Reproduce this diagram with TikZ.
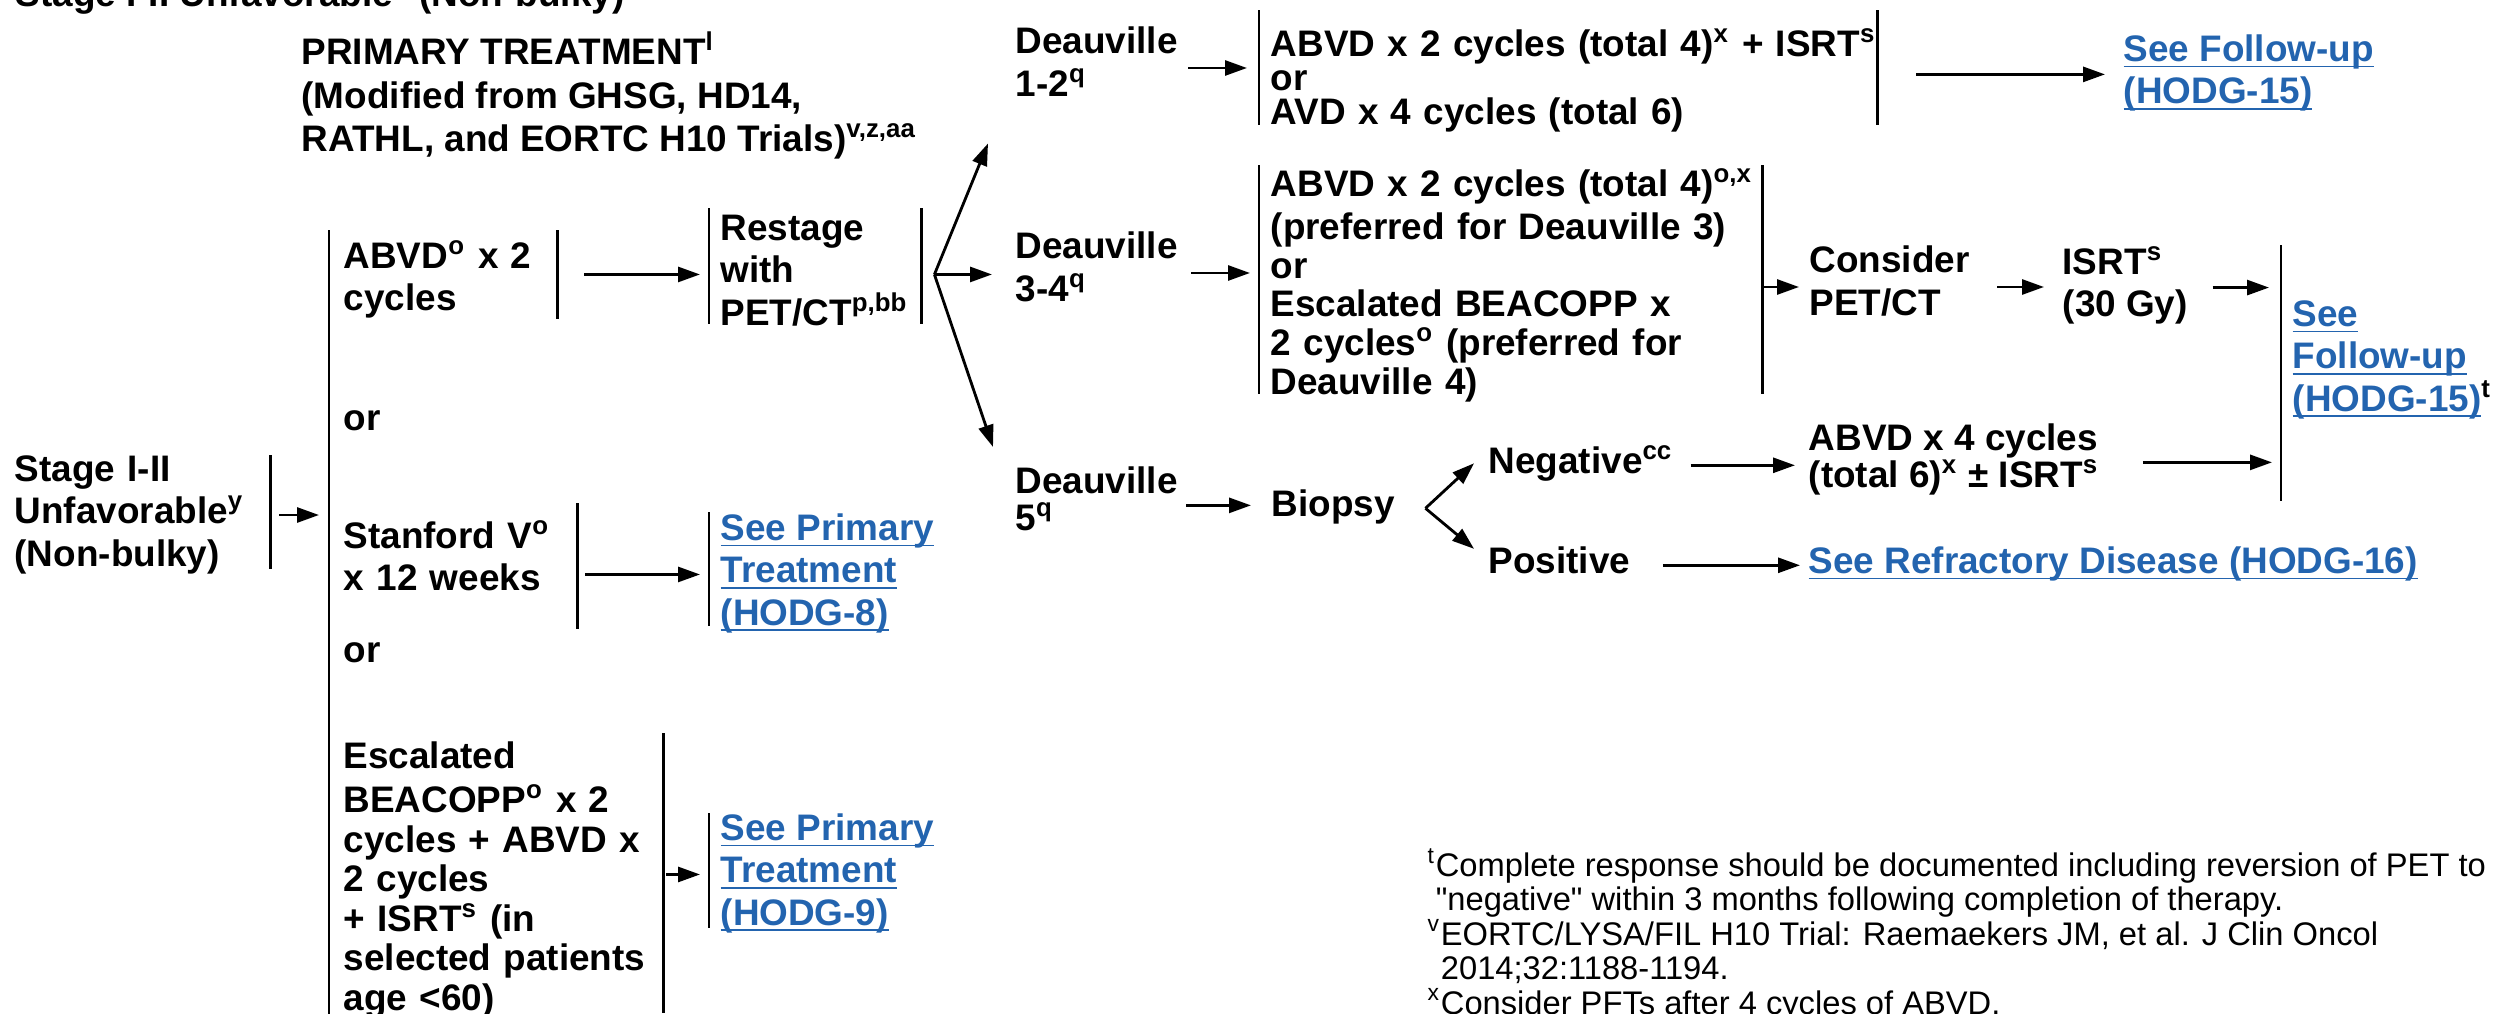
\documentclass[tikz,border=0pt]{standalone}
\usepackage{fontspec}
\setmainfont{Liberation Sans}
\usetikzlibrary{arrows.meta,positioning}

\definecolor{linkblue}{RGB}{35,100,175}
\newcommand{\tstrut}{\rule[-3.6pt]{0pt}{12pt}}
\newcommand{\lnk}[1]{\underline{\smash{#1}}\tstrut}
\lineskiplimit=-100pt

\tikzset{
  txt/.style={font=\fontsize{10.5}{12}\selectfont\bfseries, align=left, inner sep=0pt,
    anchor=north west, execute at begin node=\tstrut, execute at end node=\tstrut},
  lead/.style={font=\fontsize{10.5}{#1}\selectfont\bfseries},
  link/.style={txt, text=linkblue},
  note/.style={font=\fontsize{9.3}{9.8}\selectfont, align=left, inner sep=0pt,
    anchor=north west, execute at begin node=\tstrut},
  bar/.style={line width=0.7pt},
  lbar/.style 2 args={append after command={([xshift=-1.1mm,yshift=#1]\tikzlastnode.north west)
    edge[bar] ([xshift=-1.1mm,yshift=#2]\tikzlastnode.south west)}},
  rbar/.style 2 args={append after command={([yshift=#1]\tikzlastnode.north east)
    edge[bar] ([yshift=#2]\tikzlastnode.south east)}},
  arr/.style={line width=0.8pt, -{Triangle[length=2.2mm,width=1.5mm]}, shorten >=2mm},
}

\begin{document}
\begin{tikzpicture}
    \useasboundingbox (0,0) rectangle (24.94,-10.13);

    % Titolo e intestazione
    \node[txt, anchor=base west] (title) at (0.15,-0.07) {Stage I-II Unfavorable\textsuperscript{y} (Non-bulky)};
    \node[txt, lead=12.3pt] (head) at (3.01,-0.315) {PRIMARY TREATMENT\textsuperscript{l}\\(Modified from GHSG, HD14,\\RATHL, and EORTC H10 Trials)\textsuperscript{v,z,aa}};

    % Colonna di sinistra
    \node[txt, text width=2.55cm, rbar={-0.35mm}{1mm}] (stage) at (0.14,-4.515) {Stage I-II\\Unfavorable\textsuperscript{y}\\(Non-bulky)};
    \draw[bar] (3.29,-2.30) -- (3.29,-10.3);
    \coordinate (opts) at (3.29,-5.15);

    % Trattamenti
    \node[txt, text width=2.13cm, rbar={0.85mm}{0.5mm}] (abvd) at (3.43,-2.385) {ABVD\textsuperscript{o} x 2\\cycles};
    \node[txt] (or1) at (3.43,-4.00) {or};
    \node[txt, text width=2.33cm, rbar={1.55mm}{-2.5mm}] (stanford) at (3.43,-5.185) {Stanford V\textsuperscript{o}\\x 12 weeks};
    \node[txt] (or2) at (3.43,-6.32) {or};
    \node[txt, lead=11.25pt, text width=3.19cm, rbar={0.55mm}{1.1mm}] (escal) at (3.43,-7.385) {Escalated\\BEACOPP\textsuperscript{o} x 2\\cycles + ABVD x\\2 cycles\\+ ISRT\textsuperscript{s} (in\\selected patients\\age <60)};

    \node[txt, text width=2.00cm, lbar={0.25mm}{1.4mm}, rbar={0.25mm}{1.4mm}] (restage) at (7.20,-2.105) {Restage\\with\\PET/CT\textsuperscript{p,bb}};
    \node[link, lbar={-0.15mm}{1.2mm}] (prim8) at (7.20,-5.105) {\lnk{See Primary}\\\lnk{Treatment}\\\lnk{(HODG-8)}};
    \node[link, lbar={-0.25mm}{1mm}] (prim9) at (7.20,-8.105) {\lnk{See Primary}\\\lnk{Treatment}\\\lnk{(HODG-9)}};

    % Deauville
    \node[txt] (d12) at (10.15,-0.265) {Deauville\\1-2\textsuperscript{q}};
    \node[txt] (d34) at (10.15,-2.315) {Deauville\\3-4\textsuperscript{q}};
    \node[txt, lead=10.5pt] (d5) at (10.15,-4.665) {Deauville\\5\textsuperscript{q}};

    \node[txt, lead=9.7pt, text width=6.06cm, lbar={1.65mm}{1.35mm}, rbar={1.65mm}{1.35mm}] (blk12) at (12.70,-0.265) {ABVD x 2 cycles (total 4)\textsuperscript{x} + ISRT\textsuperscript{s}\\or\\AVD x 4 cycles (total 6)};
    \node[txt, lead=11pt, text width=4.91cm, lbar={0.15mm}{1.4mm}, rbar={0.15mm}{1.4mm}] (blk34) at (12.70,-1.665) {ABVD x 2 cycles (total 4)\textsuperscript{o,x}\\(preferred for Deauville 3)\\or\\Escalated BEACOPP x\\2 cycles\textsuperscript{o} (preferred for\\Deauville 4)};
    \node[txt] (cons) at (18.09,-2.455) {Consider\\PET/CT};
    \node[txt] (isrt) at (20.62,-2.455) {ISRT\textsuperscript{s}\\(30 Gy)};
    \node[link] (fu15) at (21.23,-0.315) {\lnk{See Follow-up}\\\lnk{(HODG-15)}};
    \node[link, lbar={5.15mm}{-7.7mm}] (fu15t) at (22.92,-2.965) {\lnk{See}\\\lnk{Follow-up}\\\lnk{(HODG-15)}\textcolor{black}{\textsuperscript{t}}};

    \node[txt] (bio) at (12.71,-4.865) {Biopsy};
    \node[txt] (neg) at (14.88,-4.435) {Negative\textsuperscript{cc}};
    \node[txt] (pos) at (14.88,-5.435) {Positive};
    \node[txt, lead=10.5pt] (abvd4) at (18.08,-4.235) {ABVD x 4 cycles\\(total 6)\textsuperscript{x} ± ISRT\textsuperscript{s}};
    \node[link] (refr) at (18.08,-5.435) {\lnk{See Refractory Disease (HODG-16)}};

    % Note
    \node[note] (fn) at (14.27,-8.475) {\textsuperscript{t}Complete response should be documented including reversion of PET to\\
        \phantom{\textsuperscript{t}}\textquotedbl negative\textquotedbl{} within 3 months following completion of therapy.\\
        \textsuperscript{v}EORTC/LYSA/FIL H10 Trial: Raemaekers JM, et al. J Clin Oncol\\
        \phantom{\textsuperscript{v}}2014;32:1188-1194.\\
        \textsuperscript{x}Consider PFTs after 4 cycles of ABVD.};

    % Frecce
    \draw[arr, shorten <=0.9mm, shorten >=1mm] (stage.east |- opts) -- (opts);
    \draw[arr, shorten <=2.7mm] (abvd.east |- restage.west) -- (restage.west);
    \draw[arr, shorten <=0.8mm] (stanford.east |- prim8.west) -- (prim8.west);
    \draw[arr, shorten <=0.3mm] (escal.east |- prim9.west) -- (prim9.west);

    \coordinate (fan) at ([xshift=1.3mm]restage.east);
    \draw[arr, shorten >=0pt] (fan) -- ([shift={(-0.27,-0.34)}]d12.south west);
    \draw[arr, shorten >=2.3mm] (fan) -- (fan -| d34.west);
    \draw[arr, shorten >=0pt] (fan) -- ([shift={(-0.22,0.195)}]d5.north west);

    \draw[arr, shorten <=1mm, shorten >=2.3mm] (d12.east) -- (d12.east -| blk12.west);
    \draw[arr, shorten <=1.3mm] (d34.east) -- (d34.east -| blk34.west);
    \draw[arr, shorten <=0.8mm] (d5.east) -- (d5.east -| bio.west);

    \draw[arr, shorten <=3.9mm, shorten >=1.8mm] (blk12.east |- fu15.west) -- (fu15.west);
    \draw[arr, shorten >=1mm] (blk34.east |- cons.west) -- (cons.west);
    \draw[arr, shorten <=2.7mm, shorten >=1.8mm] (cons.east) -- (cons.east -| isrt.west);
    \draw[arr, shorten <=2.4mm, shorten >=2.3mm] (isrt.east) -- (isrt.east -| fu15t.west);

    \coordinate (bfan) at ([xshift=3mm]bio.east);
    \draw[arr, shorten >=0pt] (bfan) -- ([shift={(-0.14,0.02)}]neg.west);
    \draw[arr, shorten >=0pt] (bfan) -- ([shift={(-0.14,0.165)}]pos.west);
    \draw[arr, shorten <=1.7mm, shorten >=1.3mm] (neg.east) -- (neg.east -| abvd4.west);
    \draw[arr, shorten <=3.2mm, shorten >=0.8mm] (pos.east) -- (pos.east -| refr.west);
    \draw[arr, shorten <=4.3mm] (abvd4.east) -- (abvd4.east -| fu15t.west);
\end{tikzpicture}
\end{document}
